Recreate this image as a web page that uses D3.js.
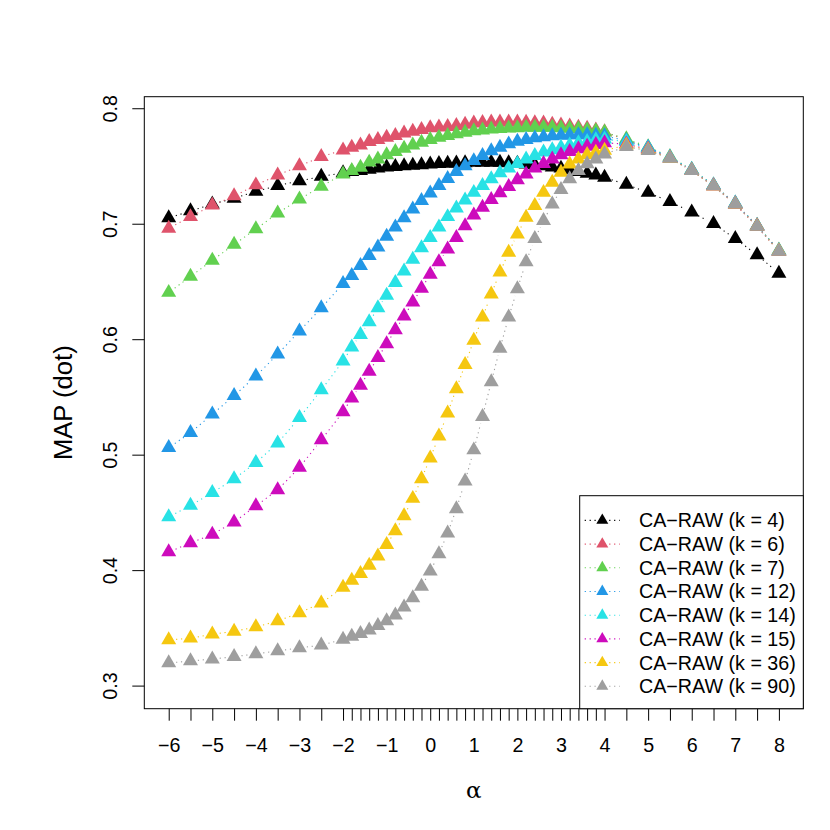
<!DOCTYPE html>
<html><head><meta charset="utf-8">
<script src="https://cdn.jsdelivr.net/npm/d3@7"></script>
<style>body{margin:0;background:#fff} svg{display:block}</style>
</head><body>
<script>
// ---------- data ----------
const alpha = [-6,-5.5,-5,-4.5,-4,-3.5,-3,-2.5,
  -2,-1.8,-1.6,-1.4,-1.2,-1,-0.8,-0.6,-0.4,-0.2,0,0.2,0.4,0.6,0.8,1,1.2,1.4,1.6,1.8,2,2.2,2.4,2.6,2.8,3,3.2,3.4,3.6,3.8,4,
  4.5,5,5.5,6,6.5,7,7.5,8];

const k4  = [0.705,0.711,0.717,0.722,0.728,0.733,0.737,0.741,
  0.744,0.745,0.746,0.747,0.748,0.749,0.7495,0.750,0.7505,0.751,0.7515,
  0.752,0.7522,0.7525,0.7527,0.753, 0.753,0.753,0.753,0.7527,0.7522,
  0.7515,0.751,0.750,0.749,0.748, 0.7465,0.745,0.7435,0.742,0.740,
  0.734,0.727,0.719,0.710,0.700,0.687,0.673,0.657];
const k6  = [0.696,0.706,0.716,0.724,0.7335,0.742,0.750,0.758,
  0.7638,0.766,0.768,0.771,0.7727,0.7748,0.7762,0.7785,0.780,0.7814,0.7829,
  0.7837,0.784,0.7849,0.786,0.787, 0.7875,0.788,0.788,0.788,0.788,
  0.7878,0.7873,0.787,0.786,0.7853, 0.7845,0.7835,0.7825,0.781,0.7795,
  0.7725,0.7655,0.757,0.746,0.7325,0.7167,0.6975,0.676];
const k7  = [0.6404,0.6543,0.6683,0.682,0.6954,0.7091,0.7212,0.7323,
  0.743,0.7459,0.7488,0.7532,0.756,0.7595,0.7623,0.7653,0.7681,0.7705,0.7727,
  0.7748,0.7762,0.7777,0.7791,0.7803, 0.781,0.7818,0.7823,0.7828,0.783,
  0.7833,0.7835,0.7835,0.7833,0.783, 0.7825,0.782,0.7812,0.7803,0.7793,
  0.7735,0.7665,0.758,0.747,0.7335,0.7177,0.6985,0.677];
const k12 = [0.506,0.519,0.535,0.551,0.568,0.587,0.607,0.627,
  0.648,0.655,0.6636,0.6723,0.6796,0.689,0.697,0.705,0.7125,0.72,0.7265,
  0.733,0.739,0.745,0.750,0.7545, 0.759,0.763,0.766,0.769,0.7712,
  0.7728,0.7742,0.7752,0.776,0.7765, 0.7768,0.777,0.777,0.7765,0.776,
  0.772,0.766,0.7575,0.7468,0.7335,0.7177,0.6983,0.6766];
const k14 = [0.446,0.456,0.467,0.479,0.493,0.510,0.532,0.556,
  0.581,0.593,0.604,0.615,0.627,0.638,0.649,0.659,0.669,0.679,0.688,
  0.697,0.706,0.7135,0.7205,0.727, 0.733,0.7387,0.744,0.748,0.752,
  0.756,0.759,0.762,0.764,0.766, 0.768,0.7699,0.771,0.7725,0.7733,
  0.771,0.7655,0.7572,0.7465,0.7333,0.7175,0.6982,0.6765];
const k15 = [0.4157,0.4236,0.431,0.4416,0.4556,0.4695,0.489,0.5127,
  0.537,0.549,0.560,0.572,0.584,0.596,0.608,0.620,0.632,0.644,0.656,
  0.667,0.678,0.688,0.698,0.7075, 0.7142,0.7208,0.7266,0.732,0.738,
  0.743,0.748,0.752,0.756,0.7595, 0.7623,0.7647,0.767,0.7684,0.770,
  0.769,0.7645,0.7568,0.7462,0.733,0.7172,0.698,0.6763];
const k36 = [0.3396,0.341,0.3445,0.347,0.3508,0.356,0.363,0.3714,
  0.385,0.391,0.397,0.404,0.412,0.422,0.434,0.447,0.462,0.479,0.497,
  0.516,0.536,0.557,0.578,0.599, 0.619,0.639,0.658,0.6752,0.691,
  0.7055,0.7156,0.727,0.7358,0.7445, 0.7515,0.756,0.7598,0.7618,0.7635,
  0.768,0.764,0.7565,0.746,0.7328,0.717,0.6978,0.6762];
const k90 = [0.3196,0.3213,0.323,0.325,0.3275,0.330,0.3327,0.335,
  0.340,0.3425,0.345,0.348,0.352,0.356,0.361,0.368,0.376,0.386,0.399,
  0.414,0.432,0.453,0.477,0.504, 0.533,0.563,0.592,0.619,0.6435,
  0.667,0.687,0.7026,0.717,0.7294, 0.7387,0.7459,0.7517,0.756,0.7603,
  0.7667,0.7632,0.7565,0.746,0.7327,0.717,0.6977,0.676];

const seriesValues = [k4, k6, k7, k12, k14, k15, k36, k90];
const seriesLabels = ["CA\u2212RAW (k = 4)","CA\u2212RAW (k = 6)","CA\u2212RAW (k = 7)","CA\u2212RAW (k = 12)",
  "CA\u2212RAW (k = 14)","CA\u2212RAW (k = 15)","CA\u2212RAW (k = 36)","CA\u2212RAW (k = 90)"];
const seriesColors = ["#000000","#DF536B","#61D04F","#2297E6","#28E2E5","#CD0BBC","#F5C710","#9E9E9E"];
const xTickLabels = [-6,-5,-4,-3,-2,-1,0,1,2,3,4,5,6,7,8];
const yTicks = [0.3,0.4,0.5,0.6,0.7,0.8];
const xTitle = "\u03B1";
const yTitle = "MAP (dot)";

// ---------- layout ----------
const W = 830, H = 830;
const L = 144.3, R = 803.3, T = 96.7, B = 708.7;
const FONT = "'Liberation Sans', Arial, Helvetica, sans-serif";
const FS = 19.7;

const x = d3.scaleLinear().domain([-6.56, 8.56]).range([L, R]);
const y = d3.scaleLinear().domain([0.28, 0.81]).range([B, T]);

const svg = d3.select("body").append("svg").attr("width", W).attr("height", H)
  .style("font-family", FONT);
svg.append("rect").attr("width", W).attr("height", H).attr("fill", "#fff");

// triangle (R pch 17) centred on its centroid
function tri(cx, cy, halfW) {
  const Rr = halfW / 1.3468;
  const r = 1.5551 * Rr, yc = 0.7776 * Rr;
  return `M${cx},${cy - r}L${cx + halfW},${cy + yc}L${cx - halfW},${cy + yc}Z`;
}

// ---------- series (type = "b", lty = 3, pch = 17) ----------
const GAP = 7.4;
const plotG = svg.append("g");
seriesValues.forEach((vals, si) => {
  const col = seriesColors[si];
  const g = plotG.append("g");
  const pts = vals.map((v, i) => [x(alpha[i]), y(v)]);
  for (let i = 1; i < pts.length; i++) {
    const [x0, y0] = pts[i - 1], [x1, y1] = pts[i];
    const len = Math.hypot(x1 - x0, y1 - y0);
    const f = GAP / len;
    if (f < 0.5) {
      g.append("line")
        .attr("x1", x0 + f * (x1 - x0)).attr("y1", y0 + f * (y1 - y0))
        .attr("x2", x1 - f * (x1 - x0)).attr("y2", y1 - f * (y1 - y0))
        .attr("stroke", col).attr("stroke-width", 1.1)
        .attr("stroke-dasharray", "1.2 3.7");
    }
  }
  g.selectAll("path").data(pts).join("path")
    .attr("d", d => tri(d[0], d[1], 7.5))
    .attr("fill", col);
});

// ---------- axes ----------
const fmtX = d3.format("d");
const xAxis = d3.axisBottom(x).tickValues(alpha).tickSize(12).tickSizeOuter(0).tickPadding(17.3)
  .tickFormat(d => xTickLabels.includes(d) ? fmtX(d) : "");
const gx = svg.append("g").attr("transform", `translate(0,${B})`).call(xAxis);
gx.select(".domain").remove();
gx.selectAll("line").attr("stroke", "#000");
gx.selectAll("text").attr("font-size", FS).attr("font-family", FONT).attr("fill", "#000");

const yAxis = d3.axisLeft(y).tickValues(yTicks).tickSize(12).tickSizeOuter(0).tickFormat(d3.format(".1f"));
const gy = svg.append("g").attr("transform", `translate(${L},0)`).call(yAxis);
gy.select(".domain").remove();
gy.selectAll("line").attr("stroke", "#000");
gy.selectAll("text").attr("font-size", FS).attr("font-family", FONT).attr("fill", "#000")
  .attr("x", null).attr("dy", null).attr("text-anchor", "middle")
  .attr("transform", "translate(-27.3,0) rotate(-90)");

// box
svg.append("rect").attr("x", L).attr("y", T).attr("width", R - L).attr("height", B - T)
  .attr("fill", "none").attr("stroke", "#000").attr("stroke-width", 1);

// titles
svg.append("text").attr("x", (L + R) / 2).attr("y", 798).attr("text-anchor", "middle")
  .attr("font-family", "'DejaVu Serif', 'Liberation Serif', serif").attr("font-size", 23)
  .text(xTitle);
svg.append("text").attr("transform", `translate(72,${(T + B) / 2}) rotate(-90)`)
  .attr("text-anchor", "middle").attr("font-size", 25.6).text(yTitle);

// ---------- legend ----------
const LX = 579.7, LY = 495.7;
const lg = svg.append("g");
lg.append("rect").attr("x", LX).attr("y", LY).attr("width", R - LX).attr("height", B - LY)
  .attr("fill", "#fff").attr("stroke", "#000").attr("stroke-width", 1);
const rowY = d3.scaleLinear().domain([0, 7]).range([520.4, 686.3]);
seriesLabels.forEach((lab, i) => {
  const cy = rowY(i);
  lg.append("line").attr("x1", 584.7).attr("x2", 619.7).attr("y1", cy).attr("y2", cy)
    .attr("stroke", seriesColors[i]).attr("stroke-width", 1.1).attr("stroke-dasharray", "1.2 3.7");
  lg.append("path").attr("d", tri(602.3, cy, 6)).attr("fill", seriesColors[i]);
  lg.append("text").attr("x", 639).attr("y", cy + 6.9).attr("font-size", FS).text(lab);
});
</script>
</body></html>
